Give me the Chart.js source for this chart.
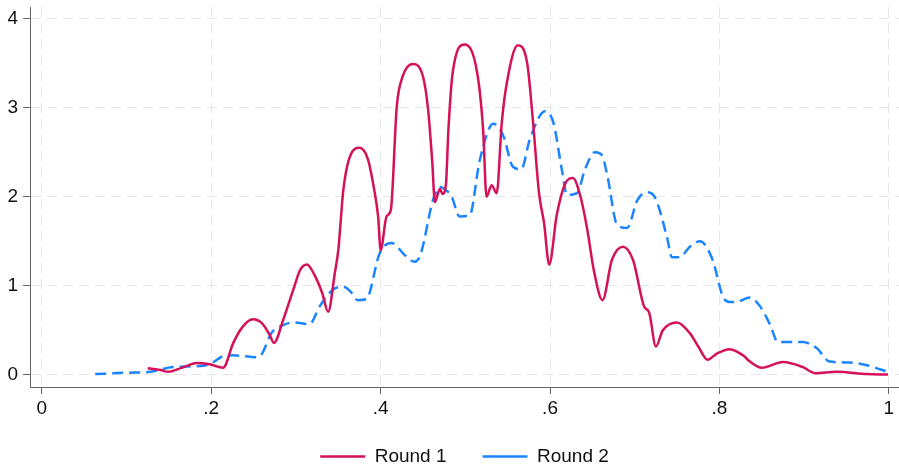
<!DOCTYPE html>
<html>
<head>
<meta charset="utf-8">
<script src="https://cdn.jsdelivr.net/npm/chart.js@4/dist/chart.umd.min.js"></script>
<style>
  html, body { margin: 0; padding: 0; background: #fff; }
  #wrap { width: 899px; height: 467px; }
</style>
</head>
<body>
<div id="wrap"><canvas id="densityChart"></canvas></div>
<script>
// Round 1 (solid)
const round1X = [0.125, 0.140, 0.149, 0.165, 0.183, 0.198, 0.214, 0.226, 0.237, 0.249, 0.260, 0.269, 0.274,
  0.285, 0.297, 0.305, 0.313, 0.322, 0.331, 0.338, 0.346, 0.350, 0.356, 0.365, 0.375, 0.385, 0.392, 0.397,
  0.400, 0.407, 0.412, 0.419, 0.426, 0.438, 0.450, 0.456, 0.461, 0.464, 0.470, 0.473, 0.477, 0.480, 0.485,
  0.499, 0.514, 0.521, 0.525, 0.531, 0.537, 0.543, 0.549, 0.562, 0.573, 0.580, 0.587, 0.593, 0.599, 0.608,
  0.618, 0.627, 0.636, 0.644, 0.652, 0.662, 0.673, 0.686, 0.698, 0.711, 0.717, 0.725, 0.733, 0.750, 0.765,
  0.775, 0.786, 0.797, 0.812, 0.828, 0.836, 0.850, 0.875, 0.898, 0.913, 0.938, 0.974, 0.999];
const round1Y = [0.075, 0.055, 0.035, 0.080, 0.135, 0.120, 0.080, 0.360, 0.540, 0.625, 0.580, 0.450, 0.360,
  0.620, 0.960, 1.180, 1.240, 1.120, 0.920, 0.710, 1.150, 1.400, 2.080, 2.480, 2.550, 2.420, 2.100, 1.780,
  1.400, 1.780, 1.850, 3.010, 3.350, 3.490, 3.350, 2.980, 2.380, 1.940, 2.090, 2.030, 2.130, 2.750, 3.390,
  3.710, 3.390, 2.750, 2.000, 2.130, 2.040, 2.830, 3.280, 3.700, 3.500, 2.830, 2.040, 1.700, 1.240, 1.800,
  2.150, 2.210, 2.000, 1.630, 1.160, 0.840, 1.290, 1.440, 1.290, 0.770, 0.700, 0.320, 0.500, 0.590, 0.470,
  0.320, 0.170, 0.240, 0.290, 0.220, 0.150, 0.080, 0.145, 0.090, 0.020, 0.035, 0.010, 0.005];

// Round 2 (dashed)
const round2X = [0.063, 0.100, 0.128, 0.155, 0.187, 0.200, 0.214, 0.226, 0.254, 0.260, 0.271, 0.285, 0.297,
  0.316, 0.328, 0.344, 0.356, 0.365, 0.373, 0.383, 0.399, 0.413, 0.429, 0.440, 0.447, 0.462, 0.470, 0.479,
  0.484, 0.493, 0.505, 0.517, 0.533, 0.545, 0.556, 0.566, 0.576, 0.594, 0.604, 0.614, 0.620, 0.632, 0.641,
  0.653, 0.661, 0.668, 0.679, 0.691, 0.703, 0.714, 0.724, 0.738, 0.744, 0.753, 0.765, 0.777, 0.792, 0.804,
  0.812, 0.820, 0.836, 0.848, 0.860, 0.869, 0.883, 0.898, 0.915, 0.930, 0.954, 0.974, 1.000];
const round2Y = [0.010, 0.025, 0.035, 0.090, 0.100, 0.130, 0.210, 0.220, 0.200, 0.240, 0.470, 0.560, 0.590,
  0.570, 0.770, 0.960, 0.990, 0.930, 0.840, 0.850, 1.370, 1.480, 1.340, 1.270, 1.350, 1.970, 2.110, 2.060,
  2.000, 1.780, 1.790, 2.410, 2.820, 2.680, 2.340, 2.310, 2.640, 2.960, 2.830, 2.300, 2.020, 2.040, 2.300,
  2.500, 2.470, 2.220, 1.690, 1.650, 1.960, 2.050, 1.990, 1.550, 1.320, 1.320, 1.440, 1.500, 1.290, 0.880,
  0.820, 0.820, 0.870, 0.770, 0.560, 0.370, 0.370, 0.370, 0.300, 0.150, 0.140, 0.110, 0.030];

const seriesNames = ['Round 1', 'Round 2'];
const xTicks = [0, 0.2, 0.4, 0.6, 0.8, 1];
const xTickLabels = ['0', '.2', '.4', '.6', '.8', '1'];
const yTicks = [0, 1, 2, 3, 4];

const toPoints = (xs, ys) => xs.map((x, i) => ({ x: x, y: ys[i] }));

const FONT = '"Liberation Sans", Arial, Helvetica, sans-serif';
const gridLines = {
    color: '#e6e6e6',
    lineWidth: 1,
    drawTicks: true,
    tickLength: 7,
    tickColor: '#666666',
    tickWidth: 1
};

const ctx = document.getElementById('densityChart').getContext('2d');
const densityChart = new Chart(ctx, {
    type: 'line',
    data: {
        datasets: [
            {
                label: seriesNames[0],
                data: toPoints(round1X, round1Y),
                borderColor: '#d41159',
                backgroundColor: '#d41159',
                borderWidth: 2.5,
                pointRadius: 0,
                cubicInterpolationMode: 'monotone',
                borderJoinStyle: 'round',
                fill: false
            },
            {
                label: seriesNames[1],
                data: toPoints(round2X, round2Y),
                borderColor: '#1a85ff',
                backgroundColor: '#1a85ff',
                borderWidth: 2.5,
                borderDash: [11, 6],
                pointRadius: 0,
                cubicInterpolationMode: 'monotone',
                fill: false
            }
        ]
    },
    options: {
        responsive: true,
        maintainAspectRatio: false,
        animation: false,
        layout: { padding: { top: 7, right: 0, left: 0, bottom: -9 } },
        plugins: {
            tooltip: { enabled: false },
            legend: {
                position: 'bottom',
                fullSize: false,
                labels: {
                    usePointStyle: true,
                    pointStyle: 'line',
                    pointStyleWidth: 45,
                    padding: 36,
                    color: '#111',
                    font: { family: FONT, size: 19 }
                }
            }
        },
        scales: {
            x: {
                type: 'linear',
                min: -0.014,
                max: 1.012,
                afterBuildTicks: axis => { axis.ticks = xTicks.map(v => ({ value: v })); },
                afterFit: axis => {
                    axis.height = 24;
                    axis.paddingLeft = 0;
                    axis.paddingRight = 0;
                    // tick labels hang below the (short) axis box, so don't clip them
                    axis._computeLabelArea = () => null;
                },
                ticks: {
                    color: '#111',
                    padding: 3,
                    maxRotation: 0,
                    font: { family: FONT, size: 19 },
                    callback: value => xTickLabels[xTicks.indexOf(value)]
                },
                grid: gridLines,
                border: { display: true, color: '#666666', width: 1, dash: [10, 6] }
            },
            y: {
                min: -0.135,
                max: 4.13,
                afterBuildTicks: axis => { axis.ticks = yTicks.map(v => ({ value: v })); },
                afterFit: axis => {
                    axis.width = 30;
                    axis.paddingTop = 0;
                    axis.paddingBottom = 0;
                },
                ticks: {
                    color: '#111',
                    padding: 5,
                    font: { family: FONT, size: 19 }
                },
                grid: gridLines,
                border: { display: true, color: '#666666', width: 1, dash: [10, 6] }
            }
        }
    }
});
</script>
</body>
</html>
